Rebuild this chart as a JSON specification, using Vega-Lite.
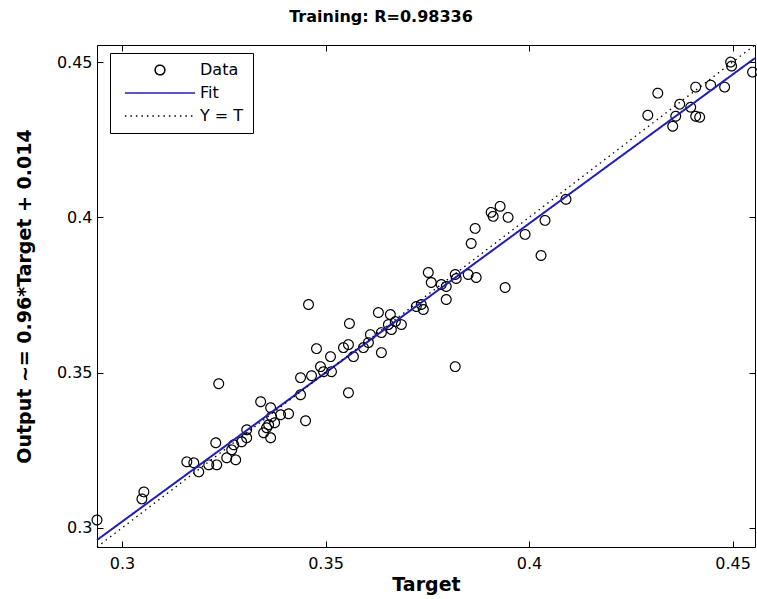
{
  "$schema": "https://vega.github.io/schema/vega-lite/v6.json",
  "width": 658,
  "height": 502,
  "autosize": {"type": "none"},
  "padding": {"left": 97, "top": 45, "right": 2, "bottom": 52},
  "background": "white",
  "title": {"text": "Training: R=0.98336", "font": "DejaVu Sans", "fontSize": 16, "fontWeight": "bold", "color": "black", "anchor": "middle", "offset": 17, "dx": -45},
  "config": {
    "font": "DejaVu Sans",
    "view": {"stroke": "black", "strokeWidth": 1},
    "axis": {"grid": false, "domain": false, "tickSize": -6, "tickColor": "black", "tickWidth": 1, "labelFont": "DejaVu Sans", "labelFontSize": 16, "labelColor": "black", "titleFont": "DejaVu Sans", "titleFontSize": 19, "titleFontWeight": "bold", "titleColor": "black", "labelOverlap": false, "labelFlush": false, "labelBound": false},
    "legend": {"orient": "none", "legendX": 13, "legendY": 8, "title": null, "strokeColor": "black", "fillColor": "white", "padding": 9, "cornerRadius": 0, "symbolOffset": 33, "labelOffset": 32, "labelFont": "DejaVu Sans", "labelFontSize": 16, "labelColor": "black", "symbolSize": 95, "symbolStrokeWidth": 1.5, "rowPadding": 7}
  },
  "datasets": {
    "all": [
      {"s": "Data", "T": 0.29387, "O": 0.30258},
      {"s": "Data", "T": 0.30539, "O": 0.31161},
      {"s": "Data", "T": 0.30490, "O": 0.30935},
      {"s": "Data", "T": 0.32377, "O": 0.34645},
      {"s": "Data", "T": 0.31593, "O": 0.32129},
      {"s": "Data", "T": 0.31765, "O": 0.32097},
      {"s": "Data", "T": 0.31887, "O": 0.31806},
      {"s": "Data", "T": 0.32132, "O": 0.32032},
      {"s": "Data", "T": 0.32328, "O": 0.32032},
      {"s": "Data", "T": 0.32304, "O": 0.32742},
      {"s": "Data", "T": 0.32574, "O": 0.32258},
      {"s": "Data", "T": 0.32794, "O": 0.32194},
      {"s": "Data", "T": 0.32696, "O": 0.32516},
      {"s": "Data", "T": 0.32745, "O": 0.32677},
      {"s": "Data", "T": 0.32941, "O": 0.32774},
      {"s": "Data", "T": 0.33064, "O": 0.32903},
      {"s": "Data", "T": 0.33064, "O": 0.33161},
      {"s": "Data", "T": 0.33407, "O": 0.34065},
      {"s": "Data", "T": 0.33480, "O": 0.33065},
      {"s": "Data", "T": 0.33603, "O": 0.33323},
      {"s": "Data", "T": 0.33652, "O": 0.32903},
      {"s": "Data", "T": 0.33652, "O": 0.33871},
      {"s": "Data", "T": 0.33676, "O": 0.33581},
      {"s": "Data", "T": 0.33750, "O": 0.33387},
      {"s": "Data", "T": 0.33554, "O": 0.33226},
      {"s": "Data", "T": 0.33897, "O": 0.33645},
      {"s": "Data", "T": 0.34093, "O": 0.33677},
      {"s": "Data", "T": 0.34387, "O": 0.34839},
      {"s": "Data", "T": 0.34387, "O": 0.34290},
      {"s": "Data", "T": 0.34510, "O": 0.33452},
      {"s": "Data", "T": 0.34583, "O": 0.37194},
      {"s": "Data", "T": 0.34657, "O": 0.34903},
      {"s": "Data", "T": 0.34779, "O": 0.35774},
      {"s": "Data", "T": 0.34877, "O": 0.35194},
      {"s": "Data", "T": 0.34951, "O": 0.35032},
      {"s": "Data", "T": 0.35123, "O": 0.35516},
      {"s": "Data", "T": 0.35147, "O": 0.35032},
      {"s": "Data", "T": 0.35441, "O": 0.35806},
      {"s": "Data", "T": 0.35564, "O": 0.35903},
      {"s": "Data", "T": 0.35588, "O": 0.36581},
      {"s": "Data", "T": 0.35564, "O": 0.34355},
      {"s": "Data", "T": 0.35686, "O": 0.35516},
      {"s": "Data", "T": 0.35931, "O": 0.35806},
      {"s": "Data", "T": 0.36054, "O": 0.35968},
      {"s": "Data", "T": 0.36103, "O": 0.36226},
      {"s": "Data", "T": 0.36373, "O": 0.35645},
      {"s": "Data", "T": 0.36299, "O": 0.36935},
      {"s": "Data", "T": 0.36593, "O": 0.36871},
      {"s": "Data", "T": 0.36544, "O": 0.36548},
      {"s": "Data", "T": 0.36618, "O": 0.36387},
      {"s": "Data", "T": 0.36863, "O": 0.36548},
      {"s": "Data", "T": 0.36716, "O": 0.36645},
      {"s": "Data", "T": 0.36373, "O": 0.36290},
      {"s": "Data", "T": 0.37353, "O": 0.37194},
      {"s": "Data", "T": 0.37402, "O": 0.37032},
      {"s": "Data", "T": 0.37230, "O": 0.37129},
      {"s": "Data", "T": 0.37525, "O": 0.38226},
      {"s": "Data", "T": 0.37598, "O": 0.37903},
      {"s": "Data", "T": 0.37966, "O": 0.37355},
      {"s": "Data", "T": 0.37966, "O": 0.37774},
      {"s": "Data", "T": 0.37843, "O": 0.37839},
      {"s": "Data", "T": 0.38186, "O": 0.38161},
      {"s": "Data", "T": 0.38211, "O": 0.38032},
      {"s": "Data", "T": 0.38186, "O": 0.35194},
      {"s": "Data", "T": 0.38505, "O": 0.38161},
      {"s": "Data", "T": 0.38701, "O": 0.38065},
      {"s": "Data", "T": 0.38578, "O": 0.39161},
      {"s": "Data", "T": 0.38676, "O": 0.39645},
      {"s": "Data", "T": 0.39069, "O": 0.40161},
      {"s": "Data", "T": 0.39118, "O": 0.40032},
      {"s": "Data", "T": 0.39289, "O": 0.40355},
      {"s": "Data", "T": 0.39485, "O": 0.40000},
      {"s": "Data", "T": 0.39412, "O": 0.37742},
      {"s": "Data", "T": 0.39902, "O": 0.39452},
      {"s": "Data", "T": 0.40392, "O": 0.39903},
      {"s": "Data", "T": 0.40294, "O": 0.38774},
      {"s": "Data", "T": 0.40907, "O": 0.40581},
      {"s": "Data", "T": 0.42917, "O": 0.43290},
      {"s": "Data", "T": 0.43162, "O": 0.44000},
      {"s": "Data", "T": 0.43529, "O": 0.42935},
      {"s": "Data", "T": 0.43603, "O": 0.43258},
      {"s": "Data", "T": 0.43701, "O": 0.43645},
      {"s": "Data", "T": 0.43971, "O": 0.43548},
      {"s": "Data", "T": 0.44093, "O": 0.44194},
      {"s": "Data", "T": 0.44093, "O": 0.43258},
      {"s": "Data", "T": 0.44191, "O": 0.43226},
      {"s": "Data", "T": 0.44461, "O": 0.44258},
      {"s": "Data", "T": 0.44804, "O": 0.44194},
      {"s": "Data", "T": 0.44951, "O": 0.45000},
      {"s": "Data", "T": 0.44975, "O": 0.44871},
      {"s": "Data", "T": 0.45490, "O": 0.44677},
      {"s": "Fit", "T": 0.29387, "O": 0.29612},
      {"s": "Fit", "T": 0.4555, "O": 0.45128},
      {"s": "Y = T", "T": 0.29387, "O": 0.29387},
      {"s": "Y = T", "T": 0.4555, "O": 0.4555}
    ]
  },
  "data": {"name": "all"},
  "encoding": {
    "x": {"field": "T", "type": "quantitative", "axis": null, "scale": {"domain": [0.29387, 0.4555], "nice": false, "zero": false}},
    "y": {"field": "O", "type": "quantitative", "axis": null, "scale": {"domain": [0.29387, 0.4555], "nice": false, "zero": false}},
    "color": {"field": "s", "type": "nominal", "scale": {"domain": ["Data", "Fit", "Y = T"], "range": ["black", "#1f1fb4", "black"]}},
    "strokeDash": {"field": "s", "type": "nominal", "scale": {"domain": ["Data", "Fit", "Y = T"], "range": [[1, 0], [1, 0], [1.5, 4]]}}
  },
  "layer": [
    {
      "transform": [{"filter": "datum.s === 'Data'"}],
      "mark": {"type": "point", "filled": false, "size": 95, "strokeWidth": 1.2, "opacity": 1},
      "encoding": {
        "x": {"field": "T", "type": "quantitative", "axis": {"orient": "bottom", "values": [0.3, 0.35, 0.4, 0.45], "format": "~g", "title": "Target", "labelPadding": 14, "titlePadding": 4}},
        "y": {"field": "O", "type": "quantitative", "axis": {"orient": "left", "values": [0.3, 0.35, 0.4, 0.45], "format": "~g", "title": "Output ~= 0.96*Target + 0.014", "labelPadding": 11, "titlePadding": 22}},
        "shape": {"field": "s", "type": "nominal", "scale": {"domain": ["Data", "Fit", "Y = T"], "range": ["circle", "M-7.2,0H7.2", "M-7.2,0H7.2"]}}
      }
    },
    {
      "transform": [{"filter": "datum.s === 'Fit'"}],
      "mark": {"type": "line", "strokeWidth": 2},
      "encoding": {
        "x": {"field": "T", "type": "quantitative", "axis": {"orient": "top", "values": [0.3, 0.35, 0.4, 0.45], "labels": false, "title": null}},
        "y": {"field": "O", "type": "quantitative", "axis": {"orient": "right", "values": [0.3, 0.35, 0.4, 0.45], "labels": false, "title": null}}
      }
    },
    {
      "transform": [{"filter": "datum.s === 'Y = T'"}],
      "mark": {"type": "line", "strokeWidth": 1.3},
      "encoding": {}
    }
  ],
  "resolve": {"axis": {"x": "independent", "y": "independent"}}
}
